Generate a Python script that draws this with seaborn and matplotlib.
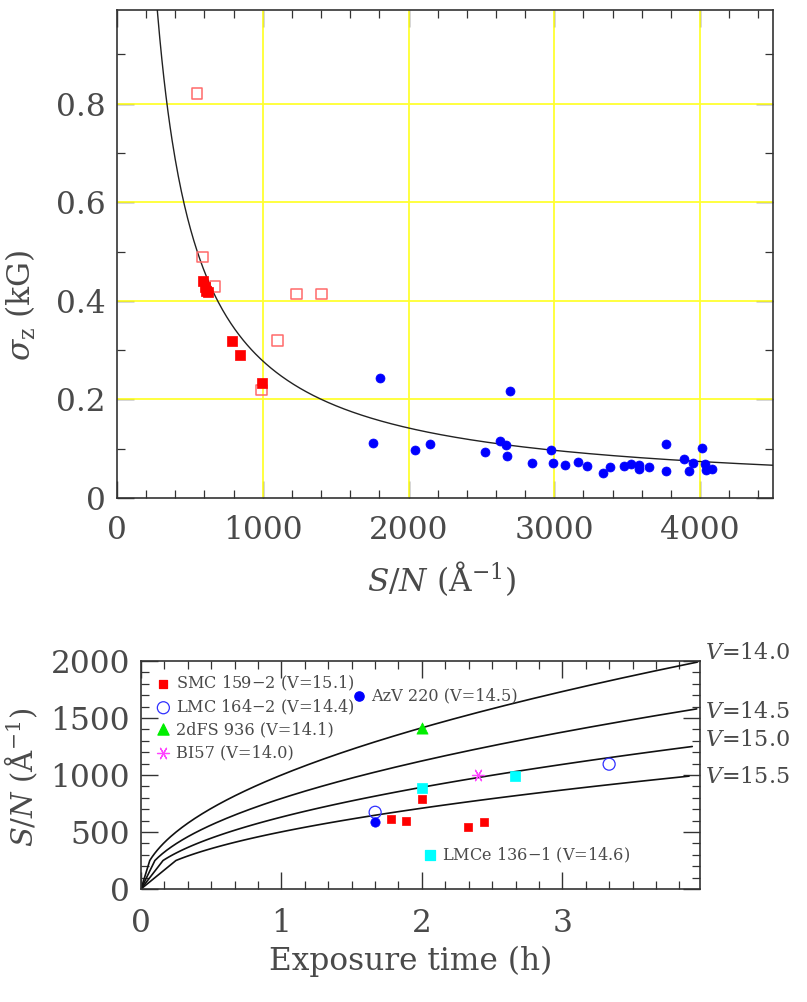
import numpy as np
import pandas as pd
import matplotlib
matplotlib.use("Agg")
import matplotlib.pyplot as plt
from matplotlib.ticker import MultipleLocator, FixedLocator, FuncFormatter
import seaborn as sns

# ---------------- data: top panel ----------------
sn_open = [548, 589, 673, 993, 1103, 1231, 1404]
sig_open = [0.820, 0.489, 0.429, 0.219, 0.319, 0.414, 0.414]

sn_red = [589, 603, 610, 623, 788, 842, 993]
sig_red = [0.441, 0.428, 0.420, 0.418, 0.319, 0.290, 0.234]

sn_blue = [1753, 1801, 2041, 2144, 2527, 2628, 2669, 2673, 2694, 2849, 2977, 2988,
           3075, 3159, 3221, 3336, 3382, 3475, 3525, 3578, 3582, 3651, 3763, 3763,
           3890, 3925, 3949, 4011, 4034, 4043, 4082]
sig_blue = [0.112, 0.243, 0.098, 0.110, 0.094, 0.115, 0.107, 0.086, 0.218, 0.071, 0.098, 0.072,
            0.067, 0.074, 0.064, 0.050, 0.063, 0.065, 0.069, 0.067, 0.059, 0.063, 0.109, 0.055,
            0.079, 0.055, 0.071, 0.101, 0.068, 0.057, 0.058]

# model curve sigma = A / (S/N) + B
curve_A = 272.0
curve_B = 0.006

# ---------------- data: bottom panel ----------------
smc_t = [1.778, 1.89, 2.0, 2.33, 2.44]
smc_sn = [614, 599, 787, 547, 588]
lmc164_t = [1.667, 3.333]
lmc164_sn = [673, 1095]
azv_t = [1.667]
azv_sn = [585]
dfs_t = [2.0]
dfs_sn = [1410]
bi57_t = [2.40]
bi57_sn = [997]
lmce_t = [2.0, 2.66]
lmce_sn = [883, 991]

mags = [14.0, 14.5, 15.0, 15.5]
mag_labels = ["14.0", "14.5", "15.0", "15.5"]
mag_label_y = [2070, 1555, 1307, 985]
sn_ref = 1000.0  # S/N after 1 h at V=14

TXT = "#4a4a4a"
sns.set_style("ticks")
plt.rcParams["font.family"] = ["DejaVu Serif"]
plt.rcParams["mathtext.fontset"] = "dejavuserif"

fig = plt.figure(figsize=(8.07, 10.02), dpi=100)
ax1 = fig.add_axes([117/807, 1 - 498/1002, 656/807, 488/1002])
ax2 = fig.add_axes([141/807, 1 - 889/1002, 559/807, 228/1002])

# ---------------- top panel ----------------
xc = np.linspace(265, 4500, 600)
dfc = pd.DataFrame({"x": xc, "y": curve_A / xc + curve_B})
sns.lineplot(data=dfc, x="x", y="y", ax=ax1, color="#222222", lw=1.0, sort=False,
             estimator=None, zorder=3)
sns.scatterplot(x=sn_open, y=sig_open, ax=ax1, marker="s", s=60, facecolor="none",
                edgecolor="#ff6a6a", linewidth=1.1, zorder=4)
sns.scatterplot(x=sn_red, y=sig_red, ax=ax1, marker="s", s=60, color="#ff0000",
                edgecolor="#ff0000", linewidth=0.5, zorder=5)
sns.scatterplot(x=sn_blue, y=sig_blue, ax=ax1, marker="o", s=42, color="#0000ff",
                edgecolor="#0000ff", linewidth=0.5, zorder=5)

ax1.set_xlim(0, 4500)
ax1.set_ylim(0, 0.99)
ax1.xaxis.set_major_locator(FixedLocator([0, 1000, 2000, 3000, 4000]))
ax1.xaxis.set_minor_locator(MultipleLocator(200))
ax1.yaxis.set_major_locator(FixedLocator([0, 0.2, 0.4, 0.6, 0.8]))
ax1.yaxis.set_minor_locator(MultipleLocator(0.1))
ax1.yaxis.set_major_formatter(FuncFormatter(lambda v, p: "0" if abs(v) < 1e-9 else f"{v:.1f}"))
ax1.xaxis.set_major_formatter(FuncFormatter(lambda v, p: f"{v:.0f}"))
for v in [1000, 2000, 3000, 4000]:
    ax1.axvline(v, color="#ffff30", lw=1.3, zorder=1)
for v in [0.2, 0.4, 0.6, 0.8]:
    ax1.axhline(v, color="#ffff30", lw=1.3, zorder=1)
ax1.set_xlabel("$S/N$ (Å$^{-1}$)", fontsize=22.5, color=TXT)
ax1.set_ylabel(r"$\sigma_{\rm z}$ (kG)", fontsize=22.5, color=TXT)
ax1.xaxis.set_label_coords(0.495, -0.125)
ax1.yaxis.set_label_coords(-0.12, 0.395)

# ---------------- bottom panel ----------------
for m in mags:
    k = sn_ref * 10 ** (-0.2 * (m - 14.0))
    sn_grid = np.concatenate([[0.0], np.arange(250, 2101, 10)])
    tt = (sn_grid / k) ** 2
    msk = tt <= 3.98
    dfl = pd.DataFrame({"t": tt[msk], "sn": sn_grid[msk]})
    sns.lineplot(data=dfl, x="t", y="sn", ax=ax2, color="#111111", lw=1.2, sort=False,
                 estimator=None, zorder=2)

sns.scatterplot(x=smc_t, y=smc_sn, ax=ax2, marker="s", s=30, color="#ff0000",
                edgecolor="#ff0000", linewidth=0.5, zorder=4)
sns.scatterplot(x=lmc164_t, y=lmc164_sn, ax=ax2, marker="o", s=75, facecolor="none",
                edgecolor="#3030ff", linewidth=0.9, zorder=4)
sns.scatterplot(x=azv_t, y=azv_sn, ax=ax2, marker="o", s=45, color="#0000ff",
                edgecolor="#0000ff", linewidth=0.5, zorder=4)
sns.scatterplot(x=dfs_t, y=dfs_sn, ax=ax2, marker="^", s=65, color="#00ee00",
                edgecolor="#00ee00", linewidth=0.5, zorder=4)
sns.scatterplot(x=bi57_t, y=bi57_sn, ax=ax2, marker=(6, 2, 90), s=75, color="#ff44ff",
                edgecolor="#ff44ff", linewidth=0.9, zorder=4)
sns.scatterplot(x=lmce_t, y=lmce_sn, ax=ax2, marker="s", s=48, color="#00ffff",
                edgecolor="#00ffff", linewidth=0.5, zorder=4)

# legend-like annotations
leg = [
    ("s", "#ff0000", "#ff0000", 28, 0.040, 0.900, "SMC 159$-$2 (V=15.1)"),
    ("o", "none", "#3030ff", 75, 0.040, 0.795, "LMC 164$-$2 (V=14.4)"),
    ("^", "#00ee00", "#00ee00", 65, 0.040, 0.700, "2dFS 936 (V=14.1)"),
    ((6, 2, 90), "#ff44ff", "#ff44ff", 75, 0.040, 0.595, "BI57 (V=14.0)"),
    ("o", "#0000ff", "#0000ff", 45, 0.3905, 0.846, "AzV 220 (V=14.5)"),
    ("s", "#00ffff", "#00ffff", 48, 0.517, 0.149, "LMCe 136$-$1 (V=14.6)"),
]
for mk, fc, ec, s, lx, ly, txt in leg:
    ax2.scatter([lx], [ly], marker=mk, s=s, facecolor=fc, edgecolor=ec, linewidth=0.9,
                transform=ax2.transAxes, zorder=5, clip_on=False)
    ax2.text(lx + 0.022, ly, txt, transform=ax2.transAxes, fontsize=11.6, color=TXT,
             ha="left", va="center")

for lab, yv in zip(mag_labels, mag_label_y):
    ax2.text(1.009, yv, f"$V$={lab}", transform=ax2.get_yaxis_transform(),
             fontsize=16, color=TXT, ha="left", va="center")

ax2.set_xlim(0, 3.98)
ax2.set_ylim(0, 2000)
ax2.xaxis.set_major_locator(FixedLocator([0, 1, 2, 3]))
ax2.xaxis.set_minor_locator(MultipleLocator(1 / 6))
ax2.yaxis.set_major_locator(MultipleLocator(500))
ax2.yaxis.set_minor_locator(MultipleLocator(100))
ax2.xaxis.set_major_formatter(FuncFormatter(lambda v, p: f"{v:.0f}"))
ax2.yaxis.set_major_formatter(FuncFormatter(lambda v, p: f"{v:.0f}"))
ax2.set_xlabel("Exposure time (h)", fontsize=22.5, color=TXT)
ax2.set_ylabel("$S/N$ (Å$^{-1}$)", fontsize=21, color=TXT)
ax2.xaxis.set_label_coords(0.483, -0.25)
ax2.yaxis.set_label_coords(-0.18, 0.487)

for ax in (ax1, ax2):
    ax.tick_params(which="both", direction="in", top=True, right=True, color="#333333",
                   labelcolor=TXT, labelsize=22.5)
    ax.tick_params(which="major", length=12, width=1.0, pad=8)
    ax.tick_params(which="minor", length=6, width=0.9)
    for sp in ax.spines.values():
        sp.set_color("#333333")
        sp.set_linewidth(1.2)
ax1.tick_params(axis="x", which="major", pad=12)
ax2.tick_params(axis="x", which="major", pad=14)

fig.savefig("out.png", dpi=100)
